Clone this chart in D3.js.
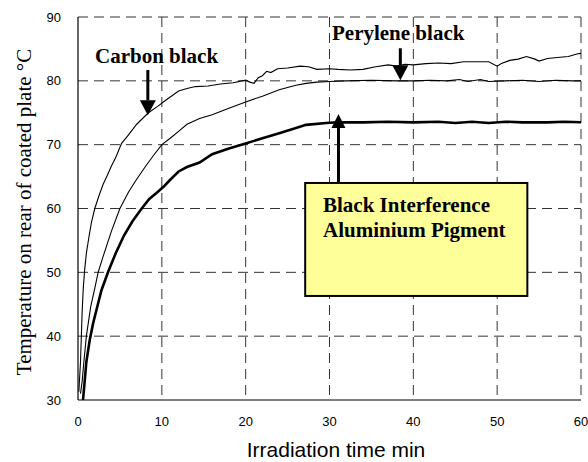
<!DOCTYPE html>
<html>
<head>
<meta charset="utf-8">
<script src="https://cdn.jsdelivr.net/npm/d3@7"></script>
<style>
  body { margin: 0; background: #fff; }
  svg { display: block; }
</style>
</head>
<body>
<script>
// tick values
var xTicks = [0, 10, 20, 30, 40, 50, 60];
var yTicks = [30, 40, 50, 60, 70, 80, 90];

// series: [time min, temperature C]
var carbonBlack = [
  [0.1, 31.3], [0.3, 36], [0.5, 44], [0.63, 47.5], [0.8, 50.5], [1.0, 53], [1.3, 55.5],
  [1.6, 57.8], [2.0, 60], [2.5, 62], [3.0, 63.8], [3.5, 65.2], [4.0, 66.7], [4.5, 68],
  [5.2, 70.2], [6.0, 71.5], [7.0, 73.2], [8.4, 75], [9.5, 76], [10.5, 77], [12.0, 78.4],
  [13.0, 78.8], [14.0, 79.1], [15.5, 79.2], [17.0, 79.5], [18.5, 79.7], [20.0, 80.1],
  [20.5, 79.8], [21.0, 79.6], [21.5, 80.5], [22.0, 80.8], [22.5, 81.5], [23.0, 81.3],
  [23.8, 81.9], [25.0, 82], [26.5, 82.3], [27.5, 82.2], [28.5, 81.8], [30.0, 81.9],
  [31.0, 81.8], [32.5, 81.7], [34.0, 81.8], [35.5, 82.2], [37.0, 82.5], [38.0, 82.3],
  [39.0, 82.6], [40.0, 82.5], [41.5, 82.7], [43.0, 82.8], [44.5, 82.7], [46.0, 83],
  [47.5, 83], [49.0, 83], [50.0, 82.3], [50.5, 82.7], [51.5, 83.2], [52.5, 83.4],
  [53.5, 83.8], [54.5, 83.4], [55.0, 83.1], [56.0, 83.5], [57.5, 83.7], [58.5, 83.8],
  [59.5, 84.2], [60.0, 84.3]
];
var peryleneBlack = [
  [0.3, 31], [0.5, 33], [0.7, 36], [1.0, 40], [1.5, 44.5], [2.0, 47.5], [2.4, 50],
  [3.0, 52.5], [3.5, 54.5], [4.0, 56.5], [5.0, 60], [6.0, 62.5], [6.8, 64.2], [8.0, 66.5],
  [9.0, 68.3], [10.0, 70], [11.0, 71], [12.1, 72.2], [13.0, 73.2], [14.5, 74.1],
  [16.0, 74.7], [18.0, 75.7], [20.0, 76.7], [22.0, 77.6], [24.0, 78.6], [26.0, 79.3],
  [27.2, 79.6], [28.5, 79.8], [30.0, 79.9], [32.0, 80], [35.0, 80.1], [38.0, 80],
  [40.0, 80], [42.0, 80.1], [44.0, 80], [45.5, 80.2], [46.5, 79.9], [48.0, 80.2],
  [49.0, 79.9], [51.0, 80], [53.0, 80.1], [55.0, 79.9], [57.0, 80.1], [59.0, 80], [60.0, 80]
];
var blackInterference = [
  [0.6, 30], [0.8, 33], [1.0, 36], [1.4, 39.4], [1.8, 42], [2.2, 44.1], [2.8, 47.2],
  [3.6, 50.1], [4.5, 53], [5.5, 55.8], [6.5, 58], [7.6, 60], [8.5, 61.5], [9.5, 62.6],
  [10.2, 63.4], [11.0, 64.5], [12.0, 65.8], [13.0, 66.5], [14.5, 67.2], [16.0, 68.5],
  [18.0, 69.4], [20.0, 70.2], [22.0, 71], [24.0, 71.8], [26.0, 72.6], [27.2, 73.1],
  [29.6, 73.4], [31.0, 73.5], [34.0, 73.5], [37.0, 73.6], [40.0, 73.5], [43.0, 73.6],
  [45.0, 73.4], [47.0, 73.6], [49.0, 73.4], [51.0, 73.6], [53.0, 73.5], [56.0, 73.5],
  [58.0, 73.6], [60.0, 73.5]
];

var width = 588, height = 462;
var padL = 78, padR = 581, padT = 17, padB = 400;

var x = d3.scaleLinear().domain([0, 60]).range([padL, padR]);
var y = d3.scaleLinear().domain([30, 90]).range([padB, padT]);

var svg = d3.select("body").append("svg")
    .attr("width", width)
    .attr("height", height);

// dashed grid
svg.selectAll(".gx").data(xTicks.slice(1))
  .enter().append("line")
    .attr("x1", function (d) { return x(d); })
    .attr("x2", function (d) { return x(d); })
    .attr("y1", padT).attr("y2", padB)
    .attr("stroke", "#333").attr("stroke-width", 1)
    .attr("stroke-dasharray", "10,6");

svg.selectAll(".gy").data(yTicks.slice(1))
  .enter().append("line")
    .attr("x1", padL).attr("x2", padR)
    .attr("y1", function (d) { return y(d); })
    .attr("y2", function (d) { return y(d); })
    .attr("stroke", "#333").attr("stroke-width", 1)
    .attr("stroke-dasharray", "10,6");

// solid axes
svg.append("line").attr("x1", padL).attr("x2", padL).attr("y1", padT).attr("y2", padB)
    .attr("stroke", "#000").attr("stroke-width", 1.2);
svg.append("line").attr("x1", padL).attr("x2", padR).attr("y1", padB).attr("y2", padB)
    .attr("stroke", "#000").attr("stroke-width", 1.2);

// tick labels
svg.selectAll(".tx").data(xTicks)
  .enter().append("text")
    .attr("x", function (d) { return x(d); })
    .attr("y", 426)
    .attr("text-anchor", "middle")
    .style("font-family", "Liberation Sans, Arial, sans-serif")
    .style("font-size", "13px")
    .text(function (d) { return d; });

svg.selectAll(".ty").data(yTicks)
  .enter().append("text")
    .attr("x", 61)
    .attr("y", function (d) { return y(d) + 4.5; })
    .attr("text-anchor", "end")
    .style("font-family", "Liberation Sans, Arial, sans-serif")
    .style("font-size", "13px")
    .text(function (d) { return d; });

// axis titles
svg.append("text")
    .attr("x", 336).attr("y", 457)
    .attr("text-anchor", "middle")
    .style("font-family", "Liberation Sans, Arial, sans-serif")
    .style("font-size", "21px")
    .text("Irradiation time min");

svg.append("text")
    .attr("transform", "translate(31,212) rotate(-90)")
    .attr("text-anchor", "middle")
    .style("font-family", "Liberation Serif, Times New Roman, serif")
    .style("font-size", "21px")
    .text("Temperature on rear of coated plate \u00B0C");

// curves
var line = d3.line()
    .x(function (d) { return x(d[0]); })
    .y(function (d) { return y(d[1]); });

svg.append("path").datum(carbonBlack).attr("d", line)
    .attr("fill", "none").attr("stroke", "#000").attr("stroke-width", 1.1);
svg.append("path").datum(peryleneBlack).attr("d", line)
    .attr("fill", "none").attr("stroke", "#000").attr("stroke-width", 1.1);
svg.append("path").datum(blackInterference).attr("d", line)
    .attr("fill", "none").attr("stroke", "#000").attr("stroke-width", 2.6);

// annotation box
svg.append("rect")
    .attr("x", x(27.1)).attr("y", y(64))
    .attr("width", x(53.6) - x(27.1)).attr("height", y(46.3) - y(64))
    .attr("fill", "#ffff99").attr("stroke", "#000").attr("stroke-width", 2);

// arrows: t, T tail, T tip, shaft width, head width, head length
function arrow(t, from, to, sw, hw, hl) {
  var ax = x(t), y0 = y(from), y1 = y(to);
  var dir = y1 > y0 ? 1 : -1;
  svg.append("line")
      .attr("x1", ax).attr("x2", ax)
      .attr("y1", y0).attr("y2", y1 - dir * hl)
      .attr("stroke", "#000").attr("stroke-width", sw);
  svg.append("path")
      .attr("d", "M" + (ax - hw / 2) + "," + (y1 - dir * hl) + "L" + (ax + hw / 2) + "," + (y1 - dir * hl) + "L" + ax + "," + y1 + "Z")
      .attr("fill", "#000");
}
arrow(8.33, 81.7, 74.6, 3, 16, 15);
arrow(38.45, 85.1, 80.1, 3, 16, 15);
arrow(31.07, 64, 74.8, 3, 14, 14);

// labels
function label(tx, ty, s) {
  svg.append("text")
      .attr("x", tx).attr("y", ty)
      .style("font-family", "Liberation Serif, Times New Roman, serif")
      .style("font-size", "21px")
      .style("font-weight", "bold")
      .text(s);
}
label(95, 63, "Carbon black");
label(332, 40, "Perylene black");
label(323, 212, "Black Interference");
label(323, 237, "Aluminium Pigment");
</script>
</body>
</html>
